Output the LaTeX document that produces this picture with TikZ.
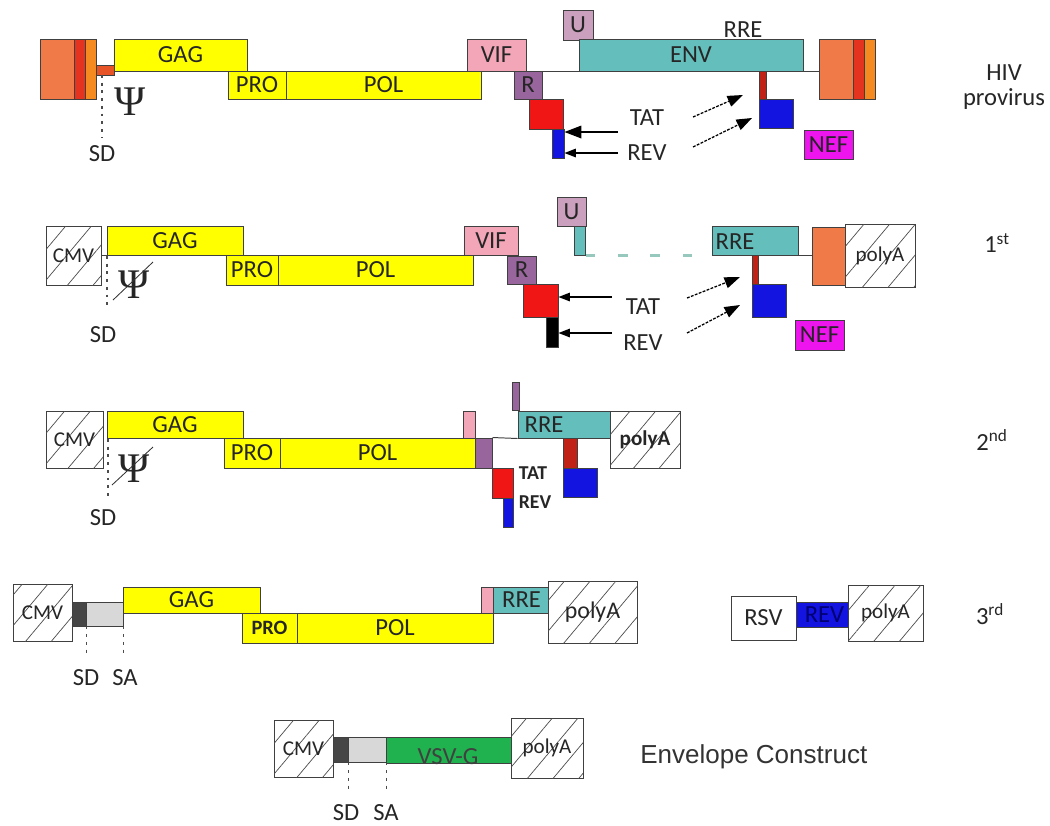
\documentclass[tikz,border=0pt]{standalone}
\usepackage{amsmath,amssymb}
\usepackage{fontspec}
\setmainfont{Carlito}
\newfontfamily\arialfont{Liberation Sans}
\newfontfamily\psifont{Liberation Serif}
\usetikzlibrary{arrows.meta,patterns.meta}

\definecolor{ltrO}{RGB}{240,122,72}
\definecolor{ltrR}{RGB}{228,52,32}
\definecolor{ltrY}{RGB}{244,138,32}
\definecolor{sdRed}{RGB}{230,84,40}
\definecolor{gagY}{RGB}{255,255,0}
\definecolor{vifP}{RGB}{242,166,184}
\definecolor{rP}{RGB}{152,102,156}
\definecolor{uP}{RGB}{202,160,190}
\definecolor{envT}{RGB}{100,190,188}
\definecolor{tatR}{RGB}{240,22,22}
\definecolor{revB}{RGB}{20,20,225}
\definecolor{darkR}{RGB}{192,34,22}
\definecolor{nefM}{RGB}{238,20,238}
\definecolor{sdGrey}{RGB}{70,70,70}
\definecolor{saGrey}{RGB}{216,216,216}
\definecolor{vsvG}{RGB}{32,178,78}
\definecolor{dashT}{RGB}{150,200,190}

\begin{document}
\begin{tikzpicture}[x=0.025cm, y=-0.025cm,
    span box/.style n args={4}{at={({(#1+#3)/2},{(#2+#4)/2})},
        minimum width={(#3-#1)*0.025cm}, minimum height={(#4-#2)*0.025cm}},
    gene box/.style={draw=black!75, line width=0.7pt, inner sep=0pt, text=black!85,
        font=\fontsize{17.5}{19}\selectfont},
    hatch box/.style={gene box, fill=white, font=\fontsize{15}{17}\selectfont,
        postaction={pattern={Lines[angle=50,distance=14pt,line width=0.5pt]}, pattern color=black!70}},
    label text/.style={inner sep=0pt, text=black!85, font=\fontsize{17.5}{19}\selectfont},
    small bold/.style={inner sep=0pt, text=black!85, font=\fontsize{14}{15}\selectfont\bfseries},
    psi text/.style={inner sep=0pt, text=black!85, font=\psifont\fontsize{30}{32}\selectfont},
    base line/.style={black!75, line width=0.7pt},
    sd line/.style={black!70, line width=0.8pt, dash pattern=on 2pt off 3.5pt},
    arrow solid/.style={line width=0.9pt, -{Triangle[length=8pt,width=6pt]}},
    arrow dashed/.style={line width=0.9pt, dash pattern=on 2pt off 1pt, -{Triangle[length=11pt,width=8pt]}}
]
    \useasboundingbox (0,0) rectangle (1050,825);

    % HIV provirus
    \node[gene box, fill=ltrO, span box={40}{39}{74}{99}] (ltrA) {};
    \node[gene box, fill=ltrR, span box={74}{39}{85}{99}] (ltrB) {};
    \node[gene box, fill=ltrY, span box={85}{39}{96}{99}] (ltrC) {};
    \node[gene box, fill=ltrO, span box={819}{39}{853}{99}] (ltrD) {};
    \node[gene box, fill=ltrR, span box={853}{39}{864}{99}] (ltrE) {};
    \node[gene box, fill=ltrY, span box={864}{39}{875}{99}] (ltrF) {};
    \node[gene box, fill=sdRed, span box={96}{65}{114}{75}] (sd0) {};
    \node[gene box, fill=gagY, span box={114}{39}{247}{71}] (gag0) {GAG};
    \node[gene box, fill=gagY, span box={228}{71}{286}{99}] (pro0) {PRO};
    \node[gene box, fill=gagY, span box={286}{71}{481}{99}] (pol0) {POL};
    \node[gene box, fill=vifP, span box={467}{39}{526}{71}] (vif0) {VIF};
    \draw[base line] (vif0.south east) -- (vif0.south east -| ltrD.west);
    \node[gene box, fill=rP, span box={514}{71}{542}{99}] (r0) {R};
    \node[gene box, fill=tatR, span box={529}{99}{563}{129}] (tat0) {};
    \node[gene box, fill=revB, span box={552}{129}{564}{158}] (rev0) {};
    \node[gene box, fill=uP, span box={563}{10}{593}{40}] (u0) {U};
    \node[gene box, fill=envT, span box={579}{39}{803}{71}] (env0) {ENV};
    \node[label text] (rre0) at (743,30) {RRE};
    \node[gene box, fill=darkR, span box={759}{71}{766}{99}] (tatB0) {};
    \node[gene box, fill=revB, span box={759}{99}{793}{128}] (revB0) {};
    \node[gene box, fill=nefM, span box={804}{130}{853}{159}] (nef0) {NEF};
    \node[psi text] (psi0) at (130,102) {Ψ};
    \coordinate (sdTop0) at (102,75);
    \coordinate (sdEnd0) at (102,138);
    \draw[sd line] (sdTop0) -- (sdEnd0);
    \node[label text] (sdl0) at (102,154) {SD};
    \node[label text] (tatl0) at (647,118) {TAT};
    \node[label text] (revl0) at (647,153) {REV};
    \coordinate (tatS0) at (618,132);
    \coordinate (revS0) at (618,153);
    \draw[line width=0.9pt, -{Triangle[length=12pt,width=9pt]}] (tatS0) -- (tatS0 -| rev0.east);
    \draw[arrow solid] (revS0) -- (revS0 -| rev0.east);
    \coordinate (tatD0) at (693,117);
    \coordinate (tatE0) at (743,95);
    \coordinate (revD0) at (693,147);
    \coordinate (revE0) at (752,118);
    \draw[arrow dashed] (tatD0) -- (tatE0);
    \draw[arrow dashed] (revD0) -- (revE0);
    \node[label text, align=center] (hiv) at (1004,87) {HIV\\[-1pt]provirus};

    % 1st
    \node[hatch box, span box={46}{226}{101}{285}] (cmv1) {CMV};
    \node[gene box, fill=gagY, span box={107}{226}{243}{255}] (gag1) {GAG};
    \draw[base line] (cmv1.east) -- (cmv1.east -| gag1.west);
    \node[gene box, fill=gagY, span box={226}{255}{278}{285}] (pro1) {PRO};
    \node[gene box, fill=gagY, span box={278}{255}{473}{285}] (pol1) {POL};
    \node[gene box, fill=vifP, span box={464}{226}{518}{255}] (vif1) {VIF};
    \node[gene box, fill=rP, span box={507}{256}{536}{284}] (r1) {R};
    \node[gene box, fill=tatR, span box={523}{284}{558}{317}] (tat1) {};
    \node[gene box, fill=black, span box={546}{317}{558}{347}] (rev1) {};
    \node[gene box, fill=uP, span box={557}{197}{586}{226}] (u1) {U};
    \node[gene box, fill=envT, span box={574}{226}{585}{255}] (ubar1) {};
    \node[gene box, fill=envT, span box={712}{226}{798}{255}] (rre1) {};
    \node[label text] (rrel1) at (735,242) {RRE};
    \draw[dashT, line width=1.5pt, dash pattern=on 7pt off 16pt] (ubar1.south east) -- (rre1.south west);
    \node[gene box, fill=darkR, span box={752}{255}{758}{284}] (tatB1) {};
    \node[gene box, fill=revB, span box={752}{284}{786}{317}] (revB1) {};
    \node[gene box, fill=nefM, span box={795}{320}{844}{350}] (nef1) {NEF};
    \node[gene box, fill=ltrO, span box={812}{227}{845}{285}] (ltr1) {};
    \node[hatch box, span box={845}{224}{915}{287}] (pa1) {polyA};
    \draw[base line] (rre1.south east) -- (rre1.south east -| ltr1.west);
    \node[psi text] (psi1) at (134,285) {Ψ};
    \draw[black!80, line width=0.6pt] (113,300) -- (153,262);
    \coordinate (sdTop1) at (107,256);
    \coordinate (sdEnd1) at (107,310);
    \draw[sd line] (sdTop1) -- (sdEnd1);
    \node[label text] (sdl1) at (103,335) {SD};
    \node[label text] (tatl1) at (643,307) {TAT};
    \node[label text] (revl1) at (643,343) {REV};
    \coordinate (tatS1) at (612,297);
    \coordinate (revS1) at (612,333);
    \draw[arrow solid] (tatS1) -- (tatS1 -| rev1.east);
    \draw[arrow solid] (revS1) -- (revS1 -| rev1.east);
    \coordinate (tatD1) at (687,298);
    \coordinate (tatE1) at (740,277);
    \coordinate (revD1) at (687,333);
    \coordinate (revE1) at (740,305);
    \draw[arrow dashed] (tatD1) -- (tatE1);
    \draw[arrow dashed] (revD1) -- (revE1);
    \node[label text] (first) at (997,243) {1\textsuperscript{st}};

    % 2nd
    \node[hatch box, span box={46}{411}{103}{468}] (cmv2) {CMV};
    \node[gene box, fill=gagY, span box={107}{411}{243}{438}] (gag2) {GAG};
    \node[gene box, fill=gagY, span box={224}{438}{280}{468}] (pro2) {PRO};
    \node[gene box, fill=gagY, span box={280}{438}{475}{468}] (pol2) {POL};
    \node[gene box, fill=vifP, span box={463}{411}{475}{438}] (vif2) {};
    \node[gene box, fill=rP, span box={475}{438}{492}{468}] (r2) {};
    \node[gene box, fill=tatR, span box={492}{468}{513}{498}] (tat2) {};
    \node[gene box, fill=revB, span box={503}{498}{513}{527}] (rev2) {};
    \node[gene box, fill=rP, span box={512}{382}{519}{410}] (u2) {};
    \node[gene box, fill=envT, span box={518}{411}{610}{438}] (rre2) {};
    \node[label text] (rrel2) at (544,425) {RRE};
    \draw[base line] (r2.north east) -- (rre2.south west);
    \node[gene box, fill=darkR, span box={563}{438}{577}{468}] (tatB2) {};
    \node[gene box, fill=revB, span box={563}{468}{597}{497}] (revB2) {};
    \node[hatch box, span box={610}{411}{680}{468}, font=\fontsize{15}{17}\selectfont\bfseries] (pa2) {polyA};
    \node[small bold] (tatl2) at (533,473) {TAT};
    \node[small bold] (revl2) at (535,502) {REV};
    \node[psi text] (psi2) at (134,469) {Ψ};
    \draw[black!80, line width=0.6pt] (112,485) -- (153,447);
    \coordinate (sdTop2) at (108,439);
    \coordinate (sdEnd2) at (108,496);
    \draw[sd line] (sdTop2) -- (sdEnd2);
    \node[label text] (sdl2) at (103,518) {SD};
    \node[label text] (second) at (992,440) {2\textsuperscript{nd}};

    % 3rd
    \node[hatch box, span box={13}{584}{72}{641}] (cmv3) {CMV};
    \node[gene box, fill=sdGrey, span box={72}{602}{86}{626}] (sd3) {};
    \node[gene box, fill=saGrey, span box={86}{602}{123}{626}] (sa3) {};
    \node[gene box, fill=gagY, span box={123}{587}{260}{613}] (gag3) {GAG};
    \node[gene box, fill=gagY, span box={242}{613}{297}{643}, font=\fontsize{14.5}{16}\selectfont\bfseries] (pro3) {PRO};
    \node[gene box, fill=gagY, span box={297}{613}{493}{643}] (pol3) {POL};
    \node[gene box, fill=vifP, span box={481}{587}{493}{613}] (vif3) {};
    \node[gene box, fill=envT, span box={493}{587}{550}{613}] (rre3) {RRE};
    \node[hatch box, span box={548}{581}{637}{643}, font=\fontsize{17}{18}\selectfont] (pa3) {polyA};
    \draw[sd line] (sd3.south east) -- +(0,28);
    \draw[sd line] (sa3.south east) -- +(0,28);
    \node[label text] (sdl3) at (86,678) {SD};
    \node[label text] (sal3) at (125,678) {SA};
    \node[gene box, fill=white, span box={731}{596}{796}{640}] (rsv3) {RSV};
    \node[gene box, fill=revB, text=blue!45!black, span box={796}{602}{853}{627}] (revR3) {REV};
    \node[hatch box, span box={848}{585}{923}{641}] (paR3) {polyA};
    \node[label text] (third) at (990,614) {3\textsuperscript{rd}};

    % Envelope construct
    \node[hatch box, span box={274}{720}{333}{777}] (cmv4) {CMV};
    \node[gene box, fill=sdGrey, span box={333}{737}{348}{762}] (sd4) {};
    \node[gene box, fill=saGrey, span box={348}{737}{386}{762}] (sa4) {};
    \node[gene box, fill=vsvG, span box={386}{737}{511}{763}] (vsv4) {};
    \node[label text, text=black!75] (vsvl4) at (448,757) {VSV-G};
    \node[hatch box, span box={511}{718}{583}{778}] (pa4) {polyA};
    \draw[sd line] (sd4.south east) -- +(0,27);
    \draw[sd line] (sa4.south east) -- +(0,27);
    \node[label text] (sdl4) at (346,813) {SD};
    \node[label text] (sal4) at (386,813) {SA};
    \node[anchor=west, inner sep=0pt, text=black!80, font=\arialfont\fontsize{18.5}{20}\selectfont] (envc) at (640,757) {Envelope Construct};

\end{tikzpicture}
\end{document}
